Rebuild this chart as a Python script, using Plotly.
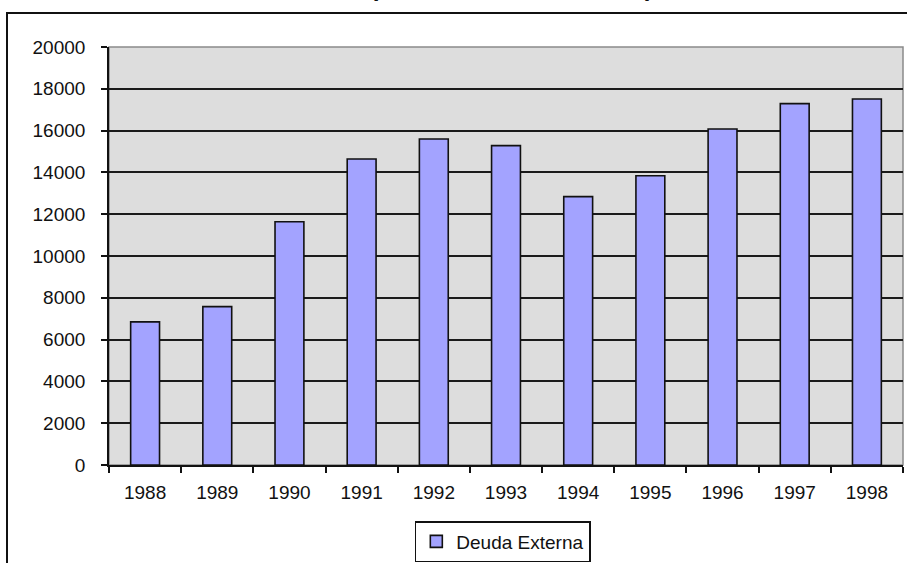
import plotly.graph_objects as go

# Deuda externa por año
years = ["1988", "1989", "1990", "1991", "1992", "1993", "1994", "1995", "1996", "1997", "1998"]
deuda_externa = [6850, 7580, 11640, 14640, 15600, 15280, 12840, 13840, 16080, 17290, 17510]
y_ticks = [0, 2000, 4000, 6000, 8000, 10000, 12000, 14000, 16000, 18000, 20000]

W, H = 907, 563
L, R, T, B = 109, 4, 47, 98
pw, ph = W - L - R, H - T - B


def px_x(p):
    return (p - L) / pw


def px_y(p):
    return (H - B - p) / ph


font = "Liberation Sans, Arial, sans-serif"

fig = go.Figure()
fig.add_trace(go.Bar(
    x=years,
    y=deuda_externa,
    name="Deuda Externa",
    width=0.4,
    marker=dict(color="#A3A3FF", line=dict(color="#111111", width=1.6)),
))

fig.update_layout(
    width=W,
    height=H,
    margin=dict(l=L, r=R, t=T, b=B, autoexpand=False),
    paper_bgcolor="white",
    plot_bgcolor="#DDDDDD",
    font=dict(family=font, size=19, color="#111111"),
    showlegend=True,
    legend=dict(
        orientation="h",
        x=0.496,
        xanchor="center",
        y=px_y(562),
        yanchor="bottom",
        bordercolor="#111111",
        borderwidth=1.5,
        bgcolor="white",
        font=dict(family=font, size=19, color="#111111"),
    ),
    xaxis=dict(
        type="category",
        showgrid=False,
        showline=True,
        linecolor="#111111",
        linewidth=1.6,
        ticks="outside",
        tickson="boundaries",
        ticklen=6,
        tickcolor="#111111",
        tickwidth=1.5,
        ticklabelstandoff=9,
        tickfont=dict(family=font, size=19, color="#111111"),
    ),
    yaxis=dict(
        range=[0, 20000],
        tickvals=y_ticks,
        ticktext=[str(v) for v in y_ticks],
        showgrid=True,
        gridcolor="#1a1a1a",
        gridwidth=1.6,
        zeroline=False,
        showline=True,
        linecolor="#111111",
        linewidth=1.6,
        ticks="outside",
        ticklen=6,
        tickcolor="#111111",
        tickwidth=1.5,
        ticklabelstandoff=12,
        tickfont=dict(family=font, size=19, color="#111111"),
    ),
    bargap=0.6,
)

# Plot area frame (top and right edges in gray)
fig.add_shape(type="rect", xref="paper", yref="paper", x0=0, x1=1, y0=0, y1=1,
              line=dict(color="#8a8a8a", width=1.5), layer="below")

# Outer chart frame
fig.add_shape(type="rect", xref="paper", yref="paper",
              x0=px_x(7), x1=px_x(1010), y0=px_y(620), y1=px_y(13),
              line=dict(color="#111111", width=2), fillcolor="rgba(0,0,0,0)")

# Title (second line)
fig.add_annotation(
    text="<b>(En millones de dólares)</b>",
    xref="paper", yref="paper",
    x=px_x(511), y=px_y(3.5),
    xanchor="center", yanchor="bottom",
    showarrow=False,
    font=dict(family=font, size=24.5, color="#111111"),
)

fig.write_html("out.html")
